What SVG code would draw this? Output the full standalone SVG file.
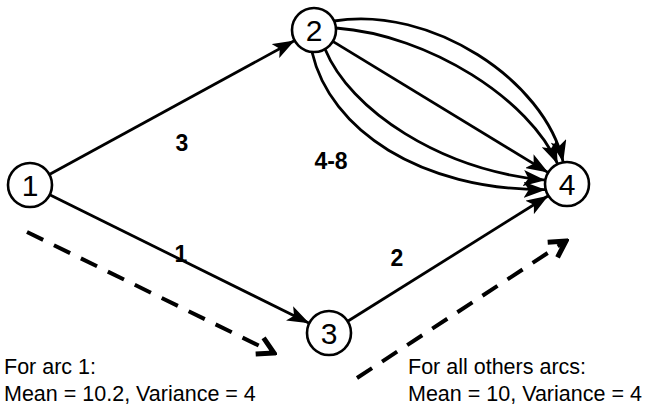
<svg xmlns="http://www.w3.org/2000/svg" width="646" height="411" viewBox="0 0 646 411">
<style>
.node{fill:#fff;stroke:#000;stroke-width:2.6}
.nl{font-family:"Liberation Sans",Arial,sans-serif;font-size:30px;text-anchor:middle;fill:#000}
.edge{fill:none;stroke:#000;stroke-width:2.8;marker-end:url(#ah)}
.dash{fill:none;stroke:#000;stroke-width:4;stroke-dasharray:18 12;marker-end:url(#dh)}
.el{font-family:"Liberation Sans",Arial,sans-serif;font-size:23px;font-weight:bold;text-anchor:middle;fill:#000}
.note{font-family:"Liberation Sans",Arial,sans-serif;font-size:21.5px;fill:#000}
</style>
<defs>
<marker id="ah" viewBox="0 0 22 16" refX="22" refY="8" markerWidth="22" markerHeight="16" markerUnits="userSpaceOnUse" orient="auto">
<path d="M0,0 L22,8 L0,16 L5,8 z" fill="#000"/>
</marker>
<marker id="dh" viewBox="-18 -12 21 24" refX="0" refY="0" markerWidth="21" markerHeight="24" markerUnits="userSpaceOnUse" orient="auto">
<path d="M-16,-9 L0,0 L-16,9" fill="none" stroke="#000" stroke-width="5" stroke-linejoin="miter"/>
</marker>
</defs>
<g id="connectors">
<line class="edge" x1="49.3" y1="174.5" x2="294.7" y2="40.5"/>
<line class="edge" x1="49.7" y1="194.8" x2="309.3" y2="323.2"/>
<line class="edge" x1="347.7" y1="321.3" x2="548.3" y2="195.7"/>
<path class="edge" d="M334,21 C430,5 545,80 563.2,162.3"/>
<path class="edge" d="M336,28 C430,35 530,100 557.7,164.1"/>
<line class="edge" x1="332.8" y1="41.4" x2="548.2" y2="172.6"/>
<path class="edge" d="M325,49 C350,110 440,170 545.3,180.2"/>
<path class="edge" d="M312,52 C330,130 420,190 545.7,189.7"/>
<line class="dash" x1="27" y1="232" x2="274" y2="353"/>
<line class="dash" x1="357" y1="378" x2="566" y2="241"/>
</g>
<g id="n1"><circle class="node" cx="30" cy="185" r="22"/><text class="nl" x="30" y="196">1</text></g>
<g id="n2"><circle class="node" cx="314" cy="30" r="22"/><text class="nl" x="314" y="41">2</text></g>
<g id="n3"><circle class="node" cx="329" cy="333" r="22"/><text class="nl" x="329" y="344">3</text></g>
<g id="n4"><circle class="node" cx="567" cy="184" r="22"/><text class="nl" x="567" y="195">4</text></g>
<g id="labels">
<text class="el" x="182" y="151">3</text>
<text class="el" x="331" y="169">4-8</text>
<text class="el" x="181" y="262">1</text>
<text class="el" x="397" y="266">2</text>
</g>
<g id="notes">
<text class="note" x="4" y="374">For arc 1:</text>
<text class="note" x="4" y="401">Mean = 10.2, Variance = 4</text>
<text class="note" x="408" y="374">For all others arcs:</text>
<text class="note" x="408" y="401">Mean = 10, Variance = 4</text>
</g>
</svg>
